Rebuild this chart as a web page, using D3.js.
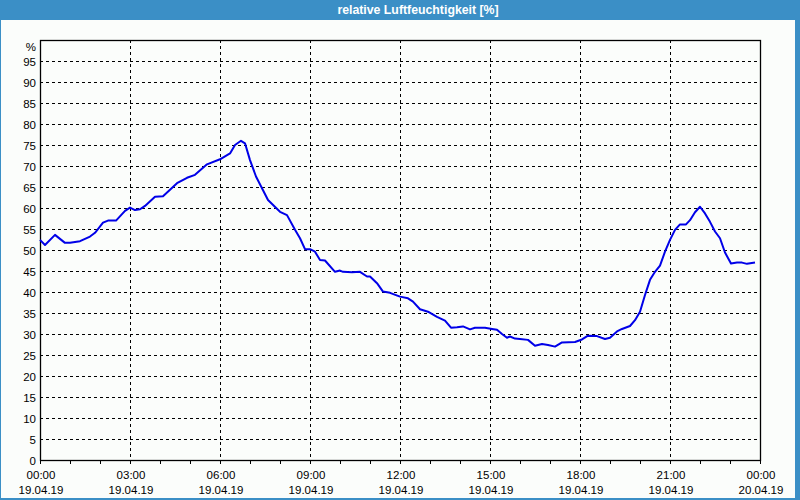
<!DOCTYPE html>
<html>
<head>
<meta charset="utf-8">
<script src="https://cdn.jsdelivr.net/npm/d3@7"></script>
<style>
html,body{margin:0;padding:0;background:#3b8fc6;}
svg{display:block;}
text{font-family:"Liberation Sans",Arial,sans-serif;}
</style>
</head>
<body>
<svg id="chart" width="800" height="500"></svg>
<script>
const title = "relative Luftfeuchtigkeit [%]";
const unitLabel = "%";
// minutes since 19.04.19 00:00
const minutes = [0,10,30,50,60,80,100,110,126,136,152,170,180,190,200,210,230,246,274,294,310,334,360,380,390,402,410,420,432,456,480,494,510,520,530,540,550,560,570,590,600,606,624,640,654,660,674,686,700,720,736,746,760,776,794,810,822,834,846,860,870,890,904,914,924,934,940,950,960,976,990,1004,1016,1030,1044,1070,1084,1096,1114,1130,1140,1154,1164,1180,1190,1200,1210,1220,1230,1240,1250,1260,1270,1280,1292,1300,1310,1320,1330,1340,1350,1360,1370,1382,1394,1404,1414,1430];
const humidity = [52.4,51.2,53.6,51.7,51.7,52.1,53.2,54.1,56.5,57.0,57.0,59.3,60.1,59.5,59.7,60.5,62.7,62.8,65.9,67.2,67.9,70.4,71.6,73.0,75.0,76.0,75.4,71.4,67.5,61.9,59.1,58.3,54.8,52.8,50.2,50.2,49.6,47.6,47.5,44.8,45.1,44.8,44.7,44.8,43.7,43.7,42.1,40.1,39.8,38.9,38.5,37.7,35.9,35.3,34.1,33.2,31.5,31.6,31.8,31.1,31.5,31.5,31.2,31.0,30.0,29.1,29.4,28.9,28.8,28.6,27.2,27.6,27.4,27.0,28.0,28.1,28.7,29.6,29.5,28.8,29.1,30.6,31.2,31.9,33.3,35.3,39.3,42.9,44.8,46.3,49.6,52.4,54.8,56.1,56.1,57.1,59.0,60.3,58.7,56.7,54.4,52.8,49.4,46.8,47.0,47.0,46.7,47.0];
const majorTicks = [0,180,360,540,720,900,1080,1260,1440];
const timeLabels = ["00:00","03:00","06:00","09:00","12:00","15:00","18:00","21:00","00:00"];
const dateLabels = ["19.04.19","19.04.19","19.04.19","19.04.19","19.04.19","19.04.19","19.04.19","19.04.19","20.04.19"];
const minorTicks = d3.range(0, 1441, 60);
const yTicks = d3.range(0, 96, 5);

const svg = d3.select("#chart");
const W = 800, H = 500;
const m = {left:40, right:760, top:40, bottom:460};

// background / frame
svg.append("rect").attr("x",0).attr("y",0).attr("width",W).attr("height",H).attr("fill","#3b8fc6");
svg.append("rect").attr("x",1).attr("y",20).attr("width",794).attr("height",478).attr("fill","#fbfdfb");

svg.append("text").attr("x",418).attr("y",14).attr("text-anchor","middle")
  .attr("fill","#ffffff").attr("font-weight","bold").attr("font-size","12.3px").text(title);

const x = d3.scaleLinear().domain([0,1440]).range([m.left, m.right]);
const y = d3.scaleLinear().domain([0,100]).range([m.bottom, m.top]);

// grid
const g = svg.append("g");
g.selectAll("line.h").data(yTicks.filter(d=>d>0)).enter().append("line")
  .attr("x1",m.left).attr("x2",m.right)
  .attr("y1",d=>Math.round(y(d))+0.5).attr("y2",d=>Math.round(y(d))+0.5)
  .attr("stroke","#000").attr("stroke-width",1).attr("stroke-dasharray","3,3");
g.selectAll("line.v").data(majorTicks.filter(d=>d>0 && d<1440)).enter().append("line")
  .attr("y1",m.top).attr("y2",m.bottom)
  .attr("x1",d=>Math.round(x(d))+0.5).attr("x2",d=>Math.round(x(d))+0.5)
  .attr("stroke","#000").attr("stroke-width",1).attr("stroke-dasharray","3,3");

// plot frame
svg.append("rect").attr("x",m.left+0.5).attr("y",m.top+0.5)
  .attr("width",m.right-m.left).attr("height",m.bottom-m.top)
  .attr("fill","none").attr("stroke","#000").attr("stroke-width",1.3);

// minor ticks on x
svg.selectAll("line.mt").data(minorTicks).enter().append("line")
  .attr("x1",d=>Math.round(x(d))+0.5).attr("x2",d=>Math.round(x(d))+0.5)
  .attr("y1",m.bottom).attr("y2",m.bottom+4)
  .attr("stroke","#000").attr("stroke-width",1);

// y labels
svg.selectAll("text.yl").data(yTicks).enter().append("text")
  .attr("x",36).attr("y",d=>y(d)+4.5).attr("text-anchor","end")
  .attr("font-size","11.5px").attr("fill","#000").text(d=>d);
svg.append("text").attr("x",36).attr("y",50.5).attr("text-anchor","end")
  .attr("font-size","11.5px").attr("fill","#000").text(unitLabel);

// x labels
svg.selectAll("text.xt").data(majorTicks).enter().append("text")
  .attr("x",d=>x(d)+1).attr("y",479).attr("text-anchor","middle")
  .attr("font-size","11.5px").attr("fill","#000").text((d,i)=>timeLabels[i]);
svg.selectAll("text.xd").data(majorTicks).enter().append("text")
  .attr("x",d=>x(d)+1).attr("y",494).attr("text-anchor","middle")
  .attr("font-size","11.5px").attr("fill","#000").text((d,i)=>dateLabels[i]);

// line
const pts = minutes.map((mn,i)=>[mn, humidity[i]]);
const line = d3.line().x(d=>x(d[0])).y(d=>y(d[1])).curve(d3.curveLinear);
svg.append("path").datum(pts).attr("d",line)
  .attr("fill","none").attr("stroke","#0000e8").attr("stroke-width",2).attr("stroke-linejoin","round");
</script>
</body>
</html>
